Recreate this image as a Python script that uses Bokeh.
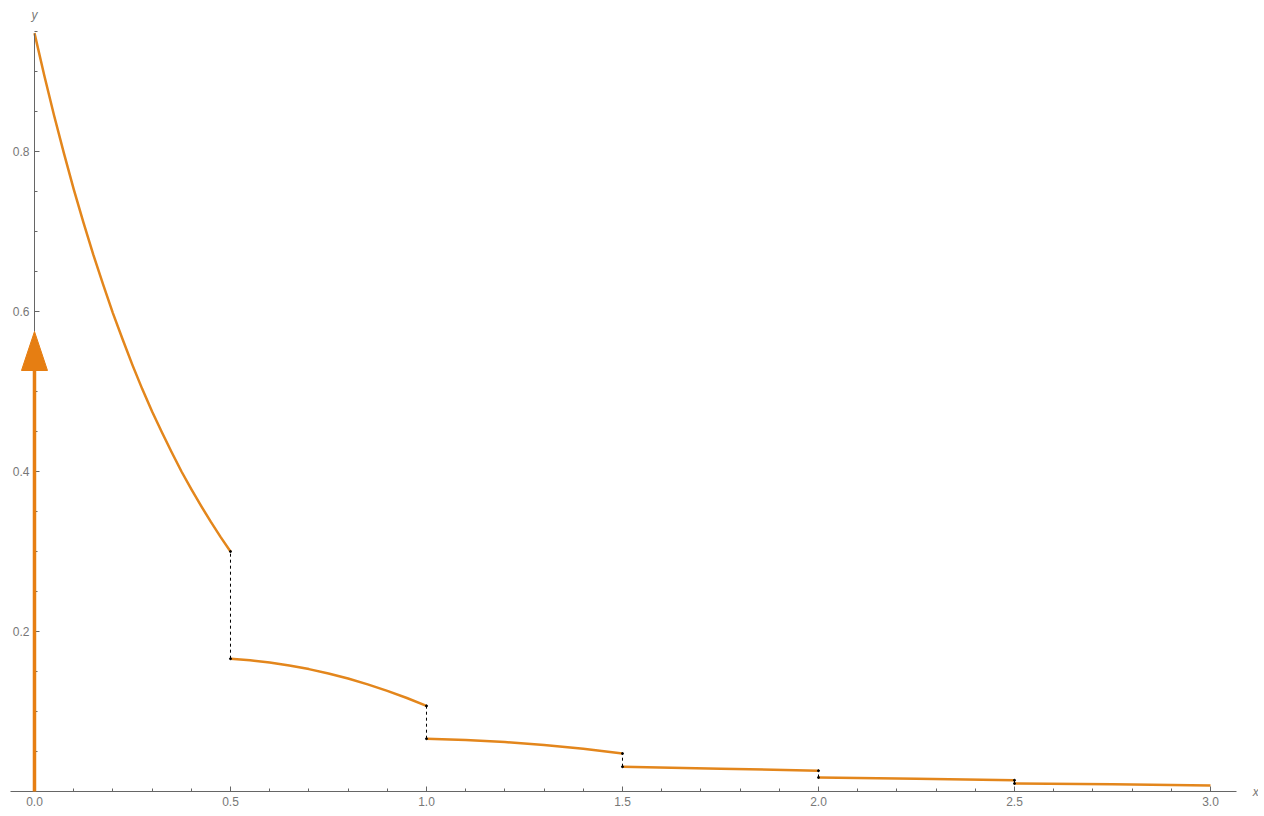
from bokeh.plotting import figure
from bokeh.models import Range1d, FixedTicker, PrintfTickFormatter, Label
from bokeh.embed import file_html
from bokeh.resources import INLINE

# ---- data ----
seg1_x = [0.0, 0.025, 0.05, 0.075, 0.1, 0.125, 0.15, 0.175, 0.2, 0.225, 0.25,
          0.275, 0.3, 0.325, 0.35, 0.375, 0.4, 0.425, 0.45, 0.475, 0.5]
seg1_y = [0.948, 0.895, 0.845, 0.798, 0.753, 0.711, 0.671, 0.634, 0.598, 0.565, 0.533,
          0.503, 0.475, 0.449, 0.424, 0.400, 0.378, 0.357, 0.337, 0.318, 0.300]
seg2_x = [0.5, 0.55, 0.6, 0.65, 0.7, 0.75, 0.8, 0.85, 0.9, 0.95, 1.0]
seg2_y = [0.166, 0.1641, 0.1612, 0.1575, 0.1530, 0.1475, 0.1412, 0.1339, 0.1258, 0.1169, 0.107]
seg3_x = [1.0, 1.1, 1.2, 1.3, 1.4, 1.5]
seg3_y = [0.066, 0.0645, 0.0618, 0.0581, 0.0534, 0.0475]
seg4_x = [1.5, 1.75, 2.0]
seg4_y = [0.031, 0.0285, 0.026]
seg5_x = [2.0, 2.25, 2.5]
seg5_y = [0.0175, 0.016, 0.014]
seg6_x = [2.5, 2.75, 3.0]
seg6_y = [0.010, 0.009, 0.0075]

arrow_x = 0.0
arrow_top = 0.575

x_ticks = [0.0, 0.5, 1.0, 1.5, 2.0, 2.5, 3.0]
x_minor = [round(i * 0.1, 2) for i in range(0, 31)]
y_ticks = [0.2, 0.4, 0.6, 0.8]
y_minor = [round(i * 0.05, 3) for i in range(0, 20)]

# ---- figure ----
W, H = 1258, 814
x0 = -0.0867
x1 = x0 + W / 392.0
y1 = 0.98875
y0 = y1 - H / 800.0

p = figure(width=W, height=H, output_backend="svg", toolbar_location=None,
           x_range=Range1d(x0, x1), y_range=Range1d(y0, y1),
           min_border=0)
p.grid.visible = False
p.outline_line_color = None
p.background_fill_color = "white"

orange = "#E3861C"
arrow_col = "#E67E12"
axis_col = "#666666"
label_col = "#777777"

for ax in (p.xaxis[0], p.yaxis[0]):
    ax.fixed_location = 0
    ax.axis_line_color = axis_col
    ax.major_tick_line_color = axis_col
    ax.minor_tick_line_color = axis_col
    ax.major_tick_in = 5
    ax.major_tick_out = 0
    ax.minor_tick_in = 3
    ax.minor_tick_out = 0
    ax.major_label_text_color = label_col
    ax.major_label_text_font = "Liberation Sans"
    ax.major_label_text_font_size = "12px"
    ax.formatter = PrintfTickFormatter(format="%.1f")

p.xaxis[0].ticker = FixedTicker(ticks=x_ticks, minor_ticks=x_minor)
p.yaxis[0].ticker = FixedTicker(ticks=y_ticks, minor_ticks=y_minor)
p.xaxis[0].bounds = (-0.06, 3.066)
p.yaxis[0].bounds = (arrow_top, max(seg1_y))

# curve segments
segs_x = [seg1_x, seg2_x, seg3_x, seg4_x, seg5_x, seg6_x]
segs_y = [seg1_y, seg2_y, seg3_y, seg4_y, seg5_y, seg6_y]
p.multi_line(xs=segs_x, ys=segs_y, line_color=orange, line_width=2.5,
             line_join="round")

# dashed jumps
jx = [sx[-1] for sx in segs_x[:-1]]
jtop = [sy[-1] for sy in segs_y[:-1]]
jbot = [sy[0] for sy in segs_y[1:]]
p.segment(x0=jx, y0=jbot, x1=jx, y1=jtop, line_color="black", line_width=1,
          line_dash="3 3")
p.scatter(x=jx + jx, y=jtop + jbot, size=2, color="black")

# arrow (delta spike)
px_per_x = W / (x1 - x0)
px_per_y = H / (y1 - y0)
head_len = 39 / px_per_y
head_half = 13 / px_per_x
p.line(x=[arrow_x, arrow_x], y=[0, arrow_top - head_len * 0.8], line_color=arrow_col,
       line_width=3.5, level="overlay")
p.patch(x=[arrow_x, arrow_x - head_half, arrow_x + head_half],
        y=[arrow_top, arrow_top - head_len, arrow_top - head_len],
        fill_color=arrow_col, line_color=arrow_col, line_width=1, level="overlay")

# axis labels
p.add_layout(Label(x=3.108, y=0, text="x", text_font="Liberation Sans",
                   text_font_style="italic", text_font_size="12px", text_color=label_col,
                   text_baseline="middle", text_align="left"))
p.add_layout(Label(x=0, y=0.962, text="y", text_font="Liberation Sans",
                   text_font_style="italic", text_font_size="12px", text_color=label_col,
                   text_baseline="bottom", text_align="center"))

open("out.html", "w").write(file_html(p, INLINE))
